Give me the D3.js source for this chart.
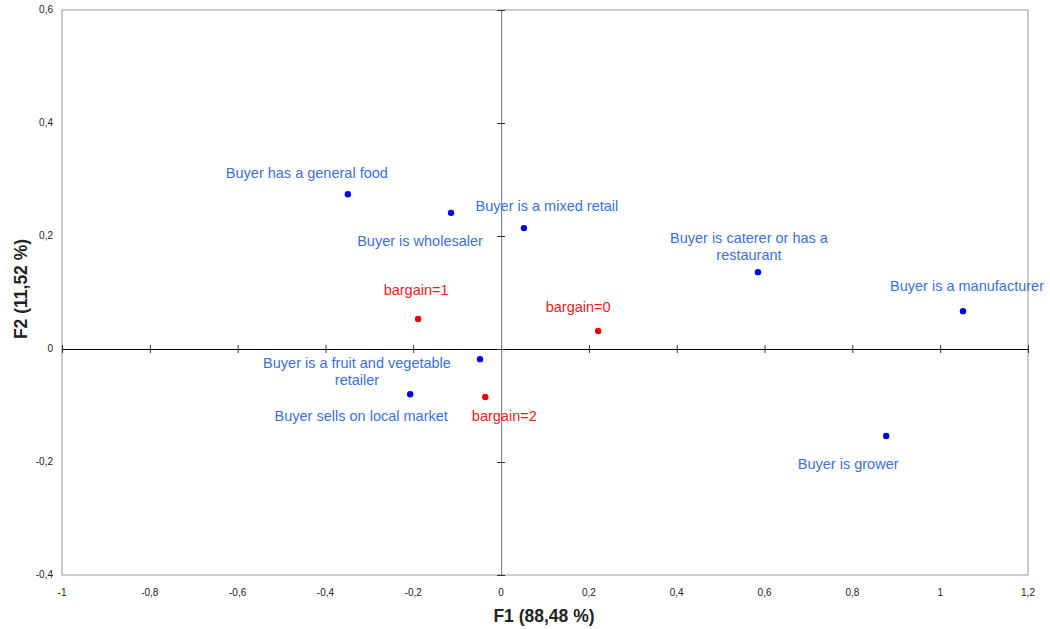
<!doctype html>
<html lang="en">
<head>
<meta charset="utf-8">
<title>F1 x F2</title>
<style>
  body { margin: 0; background: #fff; }
  text { font-family: "Liberation Sans", Arial, sans-serif; }
</style>
</head>
<body>
<div id="mychart"></div>
<script src="https://d3js.org/d3.v7.min.js"></script>
<script>
// data
var names = ["Buyer has a general food", "Buyer is wholesaler", "Buyer is a mixed retail",
  "Buyer is caterer or has a|restaurant", "Buyer is a manufacturer", "Buyer is grower",
  "Buyer is a fruit and vegetable|retailer", "Buyer sells on local market",
  "bargain=1", "bargain=0", "bargain=2"];
var f1 = [-0.349, -0.114, 0.052, 0.585, 1.052, 0.877, -0.048, -0.207, -0.189, 0.221, -0.036];
var f2 = [0.274, 0.241, 0.214, 0.136, 0.067, -0.154, -0.018, -0.080, 0.053, 0.032, -0.085];
var group = ["buyer", "buyer", "buyer", "buyer", "buyer", "buyer", "buyer", "buyer", "bargain", "bargain", "bargain"];
var xTicks = [-1, -0.8, -0.6, -0.4, -0.2, 0, 0.2, 0.4, 0.6, 0.8, 1, 1.2];
var yTicks = [-0.4, -0.2, 0, 0.2, 0.4, 0.6];

// where each label sits relative to its point (px)
var labelDx = [-41, -31, 23, -9, 4, -38, -123, -49, -2, -20, 19];
var labelDy = [-16, 33, -17, -29, -20, 33, 9, 27, -24, -19, 24];

var width = 1050, height = 629;
var m = {left: 62, right: 22, top: 10, bottom: 54};

var svg = d3.select("#mychart").append("svg")
  .attr("width", width)
  .attr("height", height);

var x = d3.scaleLinear().domain([-1, 1.2]).range([m.left, width - m.right]);
var y = d3.scaleLinear().domain([-0.4, 0.6]).range([height - m.bottom, m.top]);

var fmt = function(d) { return d3.format("~g")(d).replace(".", ",").replace("−", "-"); };

// frame
svg.append("rect")
  .attr("x", x(-1)).attr("y", y(0.6))
  .attr("width", x(1.2) - x(-1)).attr("height", y(-0.4) - y(0.6))
  .attr("fill", "none").attr("stroke", "#aaa").attr("stroke-width", 1.2);

// tick labels along the bottom and left edges
svg.append("g").selectAll("text").data(xTicks).enter().append("text")
  .attr("x", function(d) { return x(d); })
  .attr("y", y(-0.4) + 21)
  .attr("text-anchor", "middle")
  .attr("font-size", 10).attr("fill", "#222")
  .text(fmt);

svg.append("g").selectAll("text").data(yTicks).enter().append("text")
  .attr("x", x(-1) - 9)
  .attr("y", function(d) { return y(d) + 3; })
  .attr("text-anchor", "end")
  .attr("font-size", 10).attr("fill", "#222")
  .text(fmt);

// axes crossing at the origin
var xAxis = d3.axisBottom(x).tickValues(xTicks).tickSizeInner(4).tickSizeOuter(0).tickFormat("");
var gx = svg.append("g").attr("transform", "translate(0," + y(0) + ")").call(xAxis);
gx.select(".domain").attr("stroke", "#000").attr("stroke-width", 1.2);
gx.selectAll(".tick line").attr("y1", -4).attr("y2", 4).attr("stroke", "#333");

var yAxis = d3.axisLeft(y).tickValues(yTicks).tickSizeInner(4).tickSizeOuter(0).tickFormat("");
var gy = svg.append("g").attr("transform", "translate(" + x(0) + ",0)").call(yAxis);
gy.select(".domain").attr("stroke", "#888").attr("stroke-width", 1.2);
gy.selectAll(".tick line").attr("x1", -4).attr("x2", 4).attr("stroke", "#333");

// points
var pts = names.map(function(n, i) {
  return {name: n, f1: f1[i], f2: f2[i], g: group[i], dx: labelDx[i], dy: labelDy[i]};
});
var dotColor = {buyer: "#0000ee", bargain: "#ee0000"};
var labColor = {buyer: "#3d6fdc", bargain: "#e8201c"};

svg.append("g").selectAll("circle").data(pts).enter().append("circle")
  .attr("cx", function(d) { return x(d.f1); })
  .attr("cy", function(d) { return y(d.f2); })
  .attr("r", 3.2)
  .attr("fill", function(d) { return dotColor[d.g]; });

var lab = svg.append("g").selectAll("text").data(pts).enter().append("text")
  .attr("x", function(d) { return x(d.f1) + d.dx; })
  .attr("y", function(d) { return y(d.f2) + d.dy; })
  .attr("text-anchor", "middle")
  .attr("font-size", 14.5)
  .attr("fill", function(d) { return labColor[d.g]; });
lab.each(function(d) {
  var parts = d.name.split("|");
  var t = d3.select(this);
  parts.forEach(function(p, k) {
    t.append("tspan").attr("x", x(d.f1) + d.dx).attr("dy", k === 0 ? 0 : 17).text(p);
  });
});

// axis titles
svg.append("text")
  .attr("x", 544).attr("y", 622)
  .attr("text-anchor", "middle")
  .attr("font-size", 17.5).attr("font-weight", "bold").attr("fill", "#222")
  .text("F1 (88,48 %)");

svg.append("text")
  .attr("transform", "translate(27,289) rotate(-90)")
  .attr("text-anchor", "middle")
  .attr("font-size", 17.5).attr("font-weight", "bold").attr("fill", "#222")
  .text("F2 (11,52 %)");
</script>
</body>
</html>
